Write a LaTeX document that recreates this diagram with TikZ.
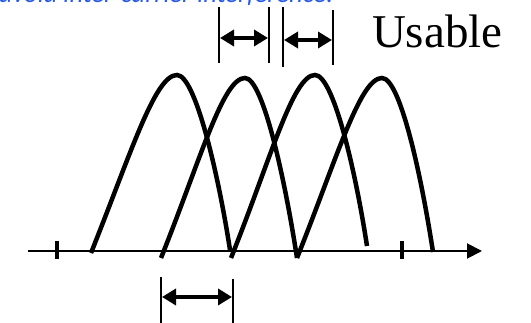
\documentclass[tikz,border=0pt]{standalone}
\usepackage{fontspec}
\setmainfont{Liberation Serif}
\newfontfamily\notefont{Carlito}
\usetikzlibrary{arrows.meta}
\definecolor{noteblue}{RGB}{40,90,230}
\begin{document}
\begin{tikzpicture}[x=1pt,y=1pt,
  archline/.style={line width=4.5pt},
  axisline/.style={line width=2pt,-{Triangle[length=15pt,width=15pt]}},
  tickline/.style={line width=3.5pt},
  topbar/.style={line width=2.7pt},
  lowbar/.style={line width=1.3pt},
  dimarrow/.style={line width=3.5pt,{Triangle[length=14pt,width=16pt]}-{Triangle[length=14pt,width=16pt]}},
  every node/.style={inner sep=0pt,outer sep=0pt}]
\useasboundingbox (0,0) rectangle (531,323);
\clip (0,0) rectangle (531,323);
% note text (cut at the top, as in the reference)
\node[anchor=base east,text=noteblue,font=\notefont\itshape\fontsize{26.5}{30}\selectfont] (note) at (333,320) {avoid inter-carrier interference.};
% axis
\coordinate (axl) at (28,72);
\coordinate (axr) at (482,72);
\draw[axisline] (axl) -- (axr);
\coordinate (t1a) at (57,82); \coordinate (t1b) at (57,64);
\coordinate (t2a) at (402,82); \coordinate (t2b) at (402,64);
\draw[tickline] (t1a) -- (t1b);
\draw[tickline] (t2a) -- (t2b);
% arches
\coordinate (c1l) at (91,70);  \coordinate (c1p) at (177,248); \coordinate (c1r) at (230,73);
\coordinate (c2l) at (161,65); \coordinate (c2p) at (245,245); \coordinate (c2r) at (297,65);
\coordinate (c3l) at (231,65); \coordinate (c3p) at (315,248); \coordinate (c3r) at (367,77);
\coordinate (c4l) at (297,65); \coordinate (c4p) at (382,245); \coordinate (c4r) at (433,71);
\foreach \i in {1,2,3,4}{
  \draw[archline] (c\i l) .. controls +(40,100) and +(-22,0) .. (c\i p)
                         .. controls +(18,0) and +(-12,78) .. (c\i r);
}
% top dimension markers
\coordinate (u1a) at (219,316); \coordinate (u1b) at (219,260);
\coordinate (u2a) at (269,316); \coordinate (u2b) at (269,260);
\coordinate (u3a) at (283,316); \coordinate (u3b) at (283,256);
\coordinate (u4a) at (333,313); \coordinate (u4b) at (333,258);
\draw[topbar] (u1a) -- (u1b);
\draw[topbar] (u2a) -- (u2b);
\draw[topbar] (u3a) -- (u3b);
\draw[topbar] (u4a) -- (u4b);
\coordinate (d1l) at (220,285); \coordinate (d1r) at (268,285);
\coordinate (d2l) at (284,283); \coordinate (d2r) at (332,283);
\draw[dimarrow] (d1l) -- (d1r);
\draw[dimarrow] (d2l) -- (d2r);
\node[anchor=base west,font=\fontsize{47}{50}\selectfont] (usable) at (372,275) {Usable};
% bottom dimension marker
\coordinate (b1a) at (161,46); \coordinate (b1b) at (161,0);
\coordinate (b2a) at (233,44); \coordinate (b2b) at (233,0);
\draw[lowbar] (b1a) -- (b1b);
\draw[lowbar] (b2a) -- (b2b);
\coordinate (e1l) at (162,26); \coordinate (e1r) at (232,26);
\draw[dimarrow] (e1l) -- (e1r);
\end{tikzpicture}
\end{document}
